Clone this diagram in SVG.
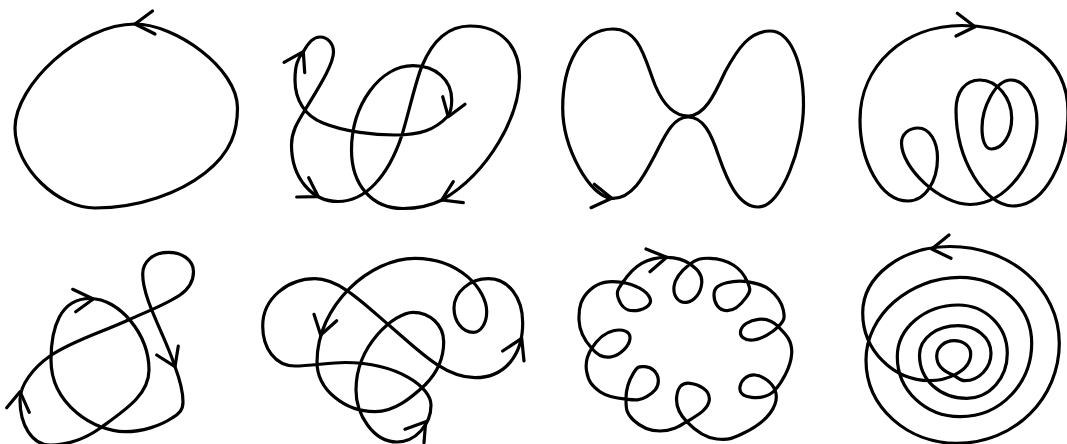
<svg xmlns="http://www.w3.org/2000/svg" width="1067" height="444" viewBox="0 0 1067 444">
<style>
path{fill:none;stroke:#000;stroke-width:3.2;stroke-linecap:round;stroke-linejoin:round}
</style>
<rect width="1067" height="444" fill="#fff"/>
<g id="curve1">
<path d="M135,24C175,24 237.5,68 237.5,108C237.5,130 232,152 205,173C180,192.4 140,208 95,208C58,208 15,168 15,128C15,85 80,24 135,24Z"/>
<path d="M152.5,11L135,24L155,34"/>
</g>
<g id="curve2">
<path d="M320,37C328,37 333.5,44 333.5,52C333.5,65 317,90 305,110C297,123 291.5,132 291.5,145C291.5,178 312,201.5 338,201.5C365,201.5 388,177 402,135C410,108 416,80 422,66C432,42 447,26 470,26C500,26 519.5,45 519.5,77C519.5,115 490,172 442,200C429,206.5 415,208.5 403,208.5C372,208.5 351.5,185 351.5,150C351.5,105 380,65.7 413,65.7C436,65.7 451.7,80 451.7,100C451.7,108 450,113 448,116C435,130 420,135 395,135C375,135 345,132 323,123C305,116 295,100 295,80C295,65 298,58 303.5,51.5C308,43 314,37 320,37Z"/>
<path d="M284,62.3L303.3,51.7L304.7,72.7"/>
<path d="M296.7,197L318.3,196.7L308.7,177.7"/>
<path d="M463.3,202.7L441.7,200L453.3,181.7"/>
<path d="M442.7,96.7L448.3,116.7L465,104.3"/>
</g>
<g id="curve3">
<path d="M611.7,198.3C590,197 562.7,148 562.7,108C562.7,65 580,29 613,29C640,29 645,60 655,85C663,104 673,116 688.3,116C704,116 714,96 725,72C738,48 750,31 770,31C790,31 803.5,62 803.5,105C803.5,145 782,207 758.3,207C738,207 727,180 718.3,155C711,133 703,117 688.3,117C672,117 664,138 655,155C645,174 632.7,199.6 611.7,198.3Z"/>
<path d="M591,207.7L611.7,198.3L594.3,184.3"/>
</g>
<g id="curve4">
<path d="M962,25.5C1020,25.5 1068,58 1068,112C1068,160 1045,206 1013,206C985,206 956,160 956,110C956,92 965,80 980,80C997,80 1011.7,98 1011.7,118C1011.7,136 1002,149 991.5,149C985,149 982,140 982,128C982,108 995,80 1011,80C1026,80 1037,100 1037,122C1037,160 1008,204.5 970,204.5C940,204.5 901.5,168 901.5,143C901.5,134 909,128 918,128C930,128 937.5,142 937.5,158C937.5,180 926,201 908,201C880,201 860,160 860,120C860,65 905,25.5 962,25.5Z"/>
<path d="M957.3,13.3L975,26.7L956,36"/>
</g>
<g id="curve5">
<path d="M90,298.5C120,298.5 149,335 149,370C149,395 125,410 100,428.3C85,439 68,445 50,445C32,445 20,425 20,400C20,385 33,368 50,356C72,341 100,333 128.3,320C148,311 165,305 180,295C190,288 193.5,280 193.5,271.7C193.5,260 182,252.3 168.3,252.3C153,252.3 142.7,262 142.7,274C142.7,300 165,335 175,366.7C180,380 183,392 183,402C183,410 179,414 172,418C160,426 142,431.7 125,431.7C95,431.7 51,405 51,360C51,328 60,298.5 90,298.5Z"/>
<path d="M72.7,289.3L93.3,299L75.7,311.7"/>
<path d="M6.7,407.7L20,391.7L29.3,412.3"/>
<path d="M156.7,355L175,366.7L178.3,346"/>
</g>
<g id="curve6">
<path d="M415,258.3C370,258.3 317,305 317,362C317,390 345,411.7 375,411.7C395,411.7 412,397 425,385C436,374 443.7,360 443.7,342C443.7,325 430,312.3 413,312.3C395,312.3 356,345 356,390C356,414 373,442 397,442C415,442 431,425 431,405C431,388 400,363 345,362.5C330,362.5 310,366 295,366C275,366 262.7,348 262.7,326C262.7,298 288,278.7 315,278.7C340,278.7 365,305 390,326C420,352 445,377.7 475,377.7C505,377.7 522.7,355 522.7,323C522.7,297 508,278.7 488.3,278.7C470,278.7 454,292 454,308C454,321 462,332.3 473.3,332.3C481,332.3 486.7,323 486.7,311.7C486.7,290 460,258.3 415,258.3Z"/>
<path d="M314,314.3L320.7,335L336.7,320.7"/>
<path d="M502.7,351L521.7,338.3L524,361"/>
<path d="M405,429.3L425.7,421.7L424,442.7"/>
</g>
<g id="curve7">
<path d="M666.7,257.3C676.3,257.4 684.2,259.7 690,264S702.7,273.1 701.7,283.3S694.1,301.3 686.7,302.3S673,296.9 674,286.7S684,268.7 690,264S700.6,258 710,258.3S725.3,260 733.3,265S744.4,274.8 747.3,281.7S751.2,290.3 746.7,296.7S735.3,311.2 726.7,310.7S714,302.5 714,295S718.9,284.7 726.7,282.7S740.1,280.5 747.3,281.7S762.2,283.9 770,290S781.5,302.1 783.3,310S784.3,320.7 778.3,326.7S762.3,339 753.3,340S739.4,336.3 740.7,330.7S749.3,320.3 758.3,319.3S772.7,321 778.3,326.7S792.5,339.5 791.7,353.3S781.7,382.7 775,390S760.7,398.3 751.7,397.3S739,392.7 740,386.7S746.5,374.5 755,375S772.5,383.6 775,390S776.9,403.9 770,413.3S754.9,427.7 743.3,433.3S728.9,440 716.7,439S693.4,428.7 686.7,421.7S675.7,405.7 676.7,396.7S681.4,382.3 690,383.3S710.3,389.8 709.3,400S694.9,416.5 686.7,421.7S671.6,431 660,431S640.7,427 633.3,420S626,408.3 626,398.3S629.1,380.2 633.3,373.3S638.5,366.2 645,366.7S657.8,372 658.3,380S653.6,392.5 646.7,396.7S634.5,400.1 626.7,399.3S608.7,397.7 600,391.7S588.5,381.1 586.7,371.7S587.3,355.1 591.7,348.3S603.8,332.7 613.3,330.7S630.5,331.3 630,338.3S621.2,354.7 611.7,356.7S597.2,354.4 591.7,348.3S579.4,332.6 579,320S580.8,298.2 590,290S608.7,280.5 621.7,282.3S647,290.8 650,298.3S641.8,310.7 633.3,310.7S621,306 618.3,298.3S619.4,287.5 623.3,281.7S633.1,268.2 641.7,263.3S657.1,257.2 666.7,257.3Z"/>
<path d="M646,249L666.7,257.3L650,271.7"/>
</g>
<g id="curve8">
<path d="M950,246.5C902,246.5 862.7,276 862.7,313C862.7,350 893,380.7 930,380.7C945,380.7 970.7,372 970.7,354C970.7,346 963,340.7 954,340.7C945,340.7 936.7,347 936.7,356C936.7,366 945,372 953.3,375C957,377 960,380.7 965,380.7C979,380.7 991,368 991,353.3C991,337 976,325.7 958,325.7C937,325.7 919.5,338 919.5,355C919.5,380 940,398.3 966.7,398.3C990,398.3 1007.3,378 1007.3,353.3C1007.3,326 985,305 958.3,305C925,305 897.3,328 897.3,356.7C897.3,390 925,416.7 960,416.7C1002,416.7 1031.7,382 1031.7,343.3C1031.7,306 1000,277.3 960,277.3C910,277.3 866,315 866,360C866,408 908,443.3 956.7,443.3C1015,443.3 1059.3,398 1059.3,343.3C1059.3,288 1010,246.5 950,246.5Z"/>
<path d="M949,235L931.7,249L951,258.3"/>
</g>
</svg>
